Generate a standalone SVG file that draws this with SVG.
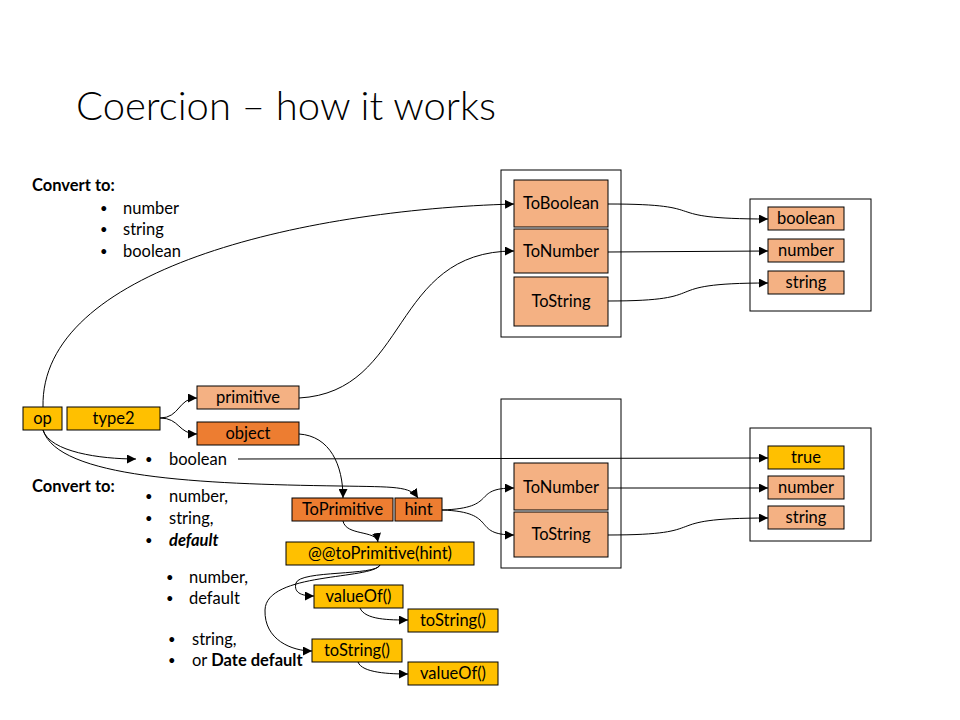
<svg xmlns="http://www.w3.org/2000/svg" width="960" height="720" viewBox="0 0 960 720">
<style>
text{font-family:Lato,"Liberation Sans",sans-serif;fill:#000}
.t{font-size:16.5px;text-anchor:middle}
.b{font-size:16.5px}
.h{font-size:16.5px;font-weight:bold}
.bu{font-size:13px}
.lo{fill:#F4B183;stroke:#000;stroke-width:1}
.dk{fill:#ED7D31;stroke:#000;stroke-width:1}
.ye{fill:#FFC000;stroke:#000;stroke-width:1}
.ct{fill:none;stroke:#000;stroke-width:1}
.c path,.c line{fill:none;stroke:#000;stroke-width:1;marker-end:url(#a)}
</style>
<defs>
<marker id="a" viewBox="0 0 10 10" refX="10" refY="5" markerWidth="9" markerHeight="9" markerUnits="userSpaceOnUse" orient="auto">
<path d="M0,0 L10,5 L0,10 z" fill="#000"/>
</marker>
</defs>
<rect width="960" height="720" fill="#fff"/>
<text x="76" y="120" style="font-size:40px;font-weight:300">Coercion – how it works</text>

<g id="text-top">
<text x="32" y="191" class="h">Convert to:</text>
<text x="100" y="213" class="bu">•</text><text x="123" y="214" class="b">number</text>
<text x="100" y="234" class="bu">•</text><text x="123" y="235" class="b">string</text>
<text x="100" y="256" class="bu">•</text><text x="123" y="257" class="b">boolean</text>
</g>

<g id="container-top"><rect x="501" y="170" width="120" height="167" class="ct"/></g>
<g id="ToBoolean"><rect x="514" y="180" width="94" height="47" class="lo"/><text x="561" y="209" class="t">ToBoolean</text></g>
<g id="ToNumber"><rect x="514" y="229" width="94" height="44" class="lo"/><text x="561" y="257" class="t">ToNumber</text></g>
<g id="ToString"><rect x="514" y="277" width="94" height="49" class="lo"/><text x="561" y="307" class="t">ToString</text></g>

<g id="container-right-top"><rect x="750" y="199" width="121" height="112" class="ct"/></g>
<g id="boolean-out"><rect x="768" y="207" width="76" height="23" class="lo"/><text x="806" y="224" class="t">boolean</text></g>
<g id="number-out"><rect x="768" y="239" width="76" height="23" class="lo"/><text x="806" y="256" class="t">number</text></g>
<g id="string-out"><rect x="768" y="271" width="76" height="23" class="lo"/><text x="806" y="288" class="t">string</text></g>

<g id="op"><rect x="23" y="407" width="39" height="23" class="ye"/><text x="42.5" y="424" class="t">op</text></g>
<g id="type2"><rect x="67" y="407" width="93" height="23" class="ye"/><text x="113.5" y="424" class="t">type2</text></g>
<g id="primitive"><rect x="197" y="386" width="102" height="23" class="lo"/><text x="248" y="403" class="t">primitive</text></g>
<g id="object"><rect x="197" y="422" width="102" height="23" class="dk"/><text x="248" y="439" class="t">object</text></g>

<g id="text-mid">
<text x="145" y="464" class="bu">•</text><text x="169" y="465" class="b">boolean</text>
<text x="32" y="492" class="h">Convert to:</text>
<text x="145" y="501" class="bu">•</text><text x="169" y="502" class="b">number,</text>
<text x="145" y="523" class="bu">•</text><text x="169" y="524" class="b">string,</text>
<text x="145" y="545" class="bu">•</text><text x="169" y="546" class="b" style="font-weight:bold;font-style:italic">default</text>
</g>

<g id="ToPrimitive"><rect x="292" y="498" width="101" height="23" class="dk"/><text x="342.5" y="515" class="t">ToPrimitive</text></g>
<g id="hint"><rect x="395" y="498" width="47" height="23" class="dk"/><text x="418.5" y="515" class="t">hint</text></g>
<g id="atToPrimitive"><rect x="286" y="542" width="188" height="23" class="ye"/><text x="380" y="559" class="t">@@toPrimitive(hint)</text></g>

<g id="container-bottom"><rect x="501" y="399" width="120" height="169" class="ct"/></g>
<g id="ToNumber2"><rect x="514" y="463" width="94" height="47" class="lo"/><text x="561" y="493" class="t">ToNumber</text></g>
<g id="ToString2"><rect x="514" y="512" width="94" height="45" class="lo"/><text x="561" y="540" class="t">ToString</text></g>

<g id="container-right-bottom"><rect x="750" y="428" width="121" height="113" class="ct"/></g>
<g id="true-out"><rect x="768" y="446" width="76" height="23" class="ye"/><text x="806" y="463" class="t">true</text></g>
<g id="number-out2"><rect x="768" y="476" width="76" height="23" class="lo"/><text x="806" y="493" class="t">number</text></g>
<g id="string-out2"><rect x="768" y="506" width="76" height="23" class="lo"/><text x="806" y="523" class="t">string</text></g>

<g id="text-bottom">
<text x="166" y="582" class="bu">•</text><text x="189" y="583" class="b">number,</text>
<text x="166" y="603" class="bu">•</text><text x="189" y="604" class="b">default</text>
<text x="168" y="644" class="bu">•</text><text x="192" y="645" class="b">string,</text>
<text x="168" y="665" class="bu">•</text><text x="192" y="666" class="b">or <tspan font-weight="bold">Date default</tspan></text>
</g>

<g id="valueOf1"><rect x="314" y="585" width="89" height="23" class="ye"/><text x="358.5" y="602" class="t">valueOf()</text></g>
<g id="toString1"><rect x="408" y="609" width="90" height="23" class="ye"/><text x="453" y="626" class="t">toString()</text></g>
<g id="toString2"><rect x="312" y="639" width="90" height="23" class="ye"/><text x="357" y="656" class="t">toString()</text></g>
<g id="valueOf2"><rect x="408" y="662" width="90" height="23" class="ye"/><text x="453" y="679" class="t">valueOf()</text></g>

<g id="connectors" class="c">
<path d="M43,407 C40,270 300,210 514,204"/>
<path d="M299,398 C410,392 390,251 514,251"/>
<path d="M160,418 C180,418 178,398 197,398"/>
<path d="M160,418 C180,418 178,434 197,434"/>
<path d="M43,430 C50,452 100,459 136,459"/>
<path d="M43,430 C58,478 200,484 340,486 C395,487 410,486 418,498"/>
<path d="M299,434 C330,436 343,465 343,498"/>
<line x1="238" y1="459" x2="768" y2="458"/>
<path d="M442,510 C500,508 470,488 514,488"/>
<path d="M442,510 C500,512 470,535 514,535"/>
<line x1="608" y1="488" x2="768" y2="488"/>
<path d="M608,535 C720,535 650,518 768,518"/>
<path d="M608,204 C720,204 650,219 768,219"/>
<line x1="608" y1="252" x2="768" y2="251"/>
<path d="M608,301 C720,301 650,283 768,283"/>
<path d="M343,521 C346,536 376,530 378,542"/>
<path d="M380,565 C376,576 300,570 296,583 C293,594 304,596 314,596"/>
<path d="M380,565 C372,580 266,572 265,610 C264,640 292,651 312,651"/>
<path d="M360,608 C365,620 390,620 408,620"/>
<path d="M358,662 C362,673 390,674 408,674"/>
</g>
</svg>
